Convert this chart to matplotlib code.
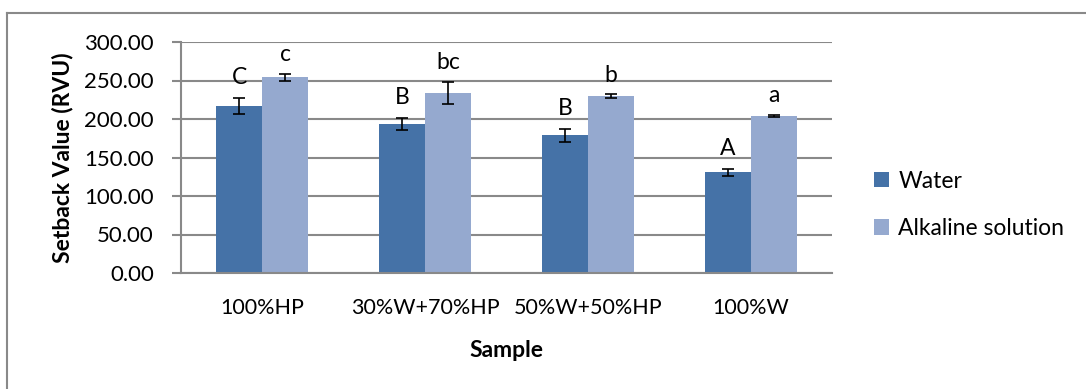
import numpy as np
import matplotlib.pyplot as plt
from matplotlib.lines import Line2D

plt.rcParams['font.family'] = ['Lato', 'DejaVu Sans']

# data
samples = ["100%HP", "30%W+70%HP", "50%W+50%HP", "100%W"]
water = [217, 193.5, 179, 131]
water_err = [10, 8, 8.5, 4.5]
alkaline = [254, 234, 230, 204]
alkaline_err = [5, 14.5, 2.5, 1.5]
water_letters = ["C", "B", "B", "A"]
alkaline_letters = ["c", "bc", "b", "a"]

c_water = "#4572A7"
c_alk = "#95A9CF"
c_grid = "#898989"
fs = 16.5

fig = plt.figure(figsize=(10.86, 3.89), dpi=100)
ax = fig.add_axes([181 / 1086, 1 - 273 / 389, (832 - 181) / 1086, (273 - 42) / 389])

x = np.arange(len(samples))
w = 0.283
ax.bar(x - w / 2, water, w, color=c_water, label="Water", zorder=2)
ax.bar(x + w / 2, alkaline, w, color=c_alk, label="Alkaline solution", zorder=2)

ekw = dict(fmt="none", ecolor="black", elinewidth=1.2, capsize=4.5, capthick=1.2, zorder=3)
ax.errorbar(x - w / 2, water, yerr=water_err, **ekw)
ax.errorbar(x + w / 2, alkaline, yerr=alkaline_err, **ekw)

for i in range(len(samples)):
    ax.annotate(water_letters[i], (x[i] - w / 2, water[i] + water_err[i]),
                xytext=(0, 7), textcoords="offset points", ha="center", va="bottom", fontsize=fs)
    ax.annotate(alkaline_letters[i], (x[i] + w / 2, alkaline[i] + alkaline_err[i]),
                xytext=(0, 6), textcoords="offset points", ha="center", va="bottom", fontsize=fs)

ax.set_xlim(-0.5, len(samples) - 0.5)
ax.set_ylim(0, 300)
ax.set_yticks(np.arange(0, 301, 50))
ax.set_yticklabels([f"{v:.2f}" for v in np.arange(0, 301, 50)])
ax.set_xticks(x)
ax.set_xticklabels(samples)
ax.tick_params(axis="y", length=6.5, width=1.5, color=c_grid, labelsize=16, pad=13)
ax.tick_params(axis="x", length=0, labelsize=15.5, pad=18)
ax.yaxis.grid(True, color=c_grid, linewidth=1.5, zorder=0)
ax.set_axisbelow(True)
for s in ["top", "right"]:
    ax.spines[s].set_visible(False)
for s in ["left", "bottom"]:
    ax.spines[s].set_color(c_grid)
    ax.spines[s].set_linewidth(1.5)

ax.set_ylabel("Setback Value (RVU)", fontsize=fs, fontweight="bold", labelpad=8)
ax.set_xlabel("Sample", fontsize=fs, fontweight="bold", labelpad=16)

ax.legend(loc="center left", bbox_to_anchor=(1.0645, 0.295), frameon=False, fontsize=fs,
          borderpad=0, borderaxespad=0,
          handlelength=0.66, handleheight=0.66, handletextpad=0.4, labelspacing=1.15)

# chart border (only top and left edges are visible)
fig.add_artist(Line2D([7 / 1086, 1], [1 - 13 / 389, 1 - 13 / 389], color=c_grid, linewidth=1.5))
fig.add_artist(Line2D([7 / 1086, 7 / 1086], [0, 1 - 13 / 389], color=c_grid, linewidth=1.5))

fig.savefig("out.png", dpi=100)
